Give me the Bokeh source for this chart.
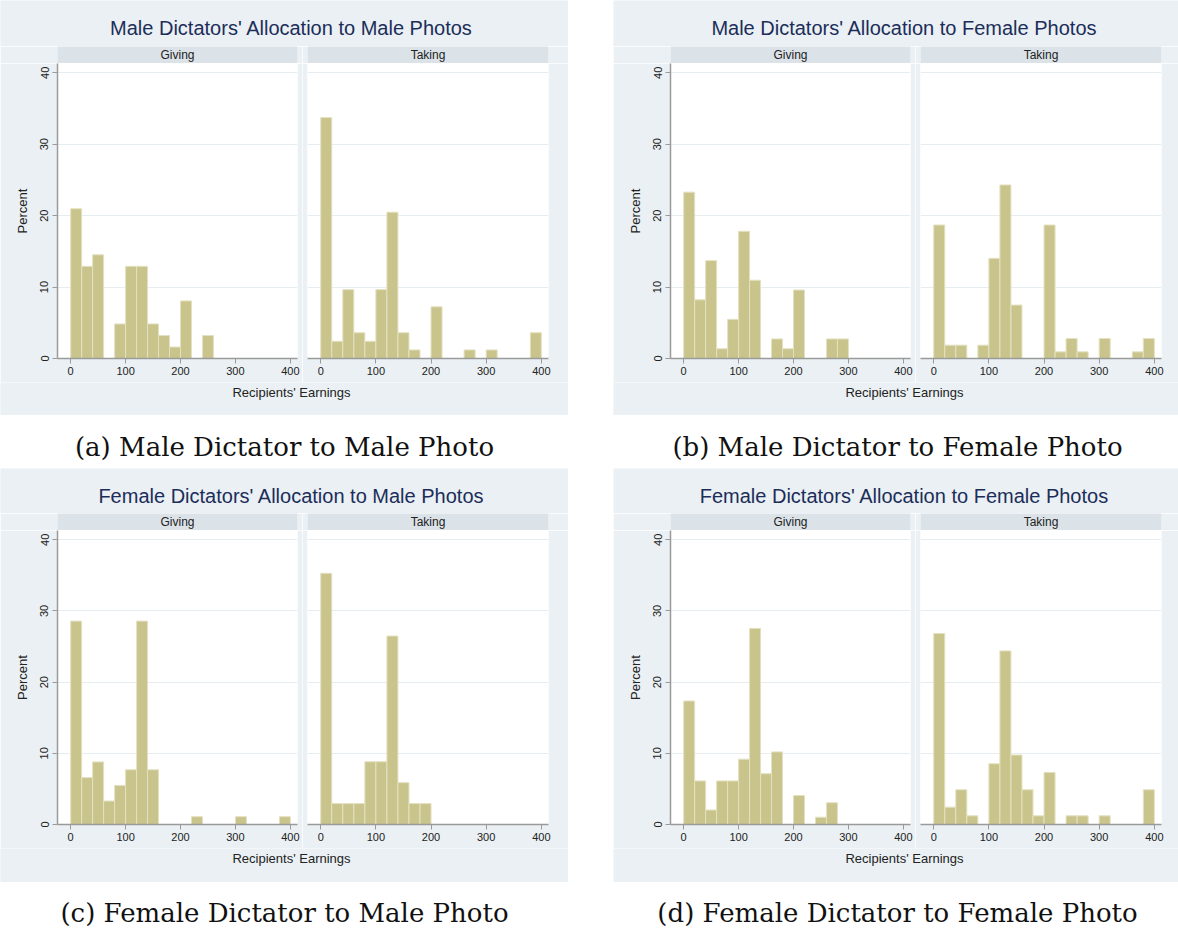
from bokeh.plotting import figure
from bokeh.layouts import row, column
from bokeh.models import Range1d, Label, Spacer, FixedTicker, ColumnDataSource
from bokeh.embed import file_html
from bokeh.resources import INLINE

# ---------------- data ----------------
BIN_EDGES = [0, 20, 40, 60, 80, 100, 120, 140, 160, 180, 200,
             220, 240, 260, 280, 300, 320, 340, 360, 380, 400]

A_GIVING = [20.97, 12.90, 14.52, 0, 4.84, 12.90, 12.90, 4.84, 3.23, 1.61,
            8.06, 0, 3.23, 0, 0, 0, 0, 0, 0, 0]
A_TAKING = [33.73, 2.41, 9.64, 3.61, 2.41, 9.64, 20.48, 3.61, 1.20, 0,
            7.23, 0, 0, 1.20, 0, 1.20, 0, 0, 0, 3.61]
B_GIVING = [23.29, 8.22, 13.70, 1.37, 5.48, 17.81, 10.96, 0, 2.74, 1.37,
            9.59, 0, 0, 2.74, 2.74, 0, 0, 0, 0, 0]
B_TAKING = [18.69, 1.87, 1.87, 0, 1.87, 14.02, 24.30, 7.48, 0, 0,
            18.69, 0.93, 2.80, 0.93, 0, 2.80, 0, 0, 0.93, 2.80]
C_GIVING = [28.57, 6.59, 8.79, 3.30, 5.49, 7.69, 28.57, 7.69, 0, 0,
            0, 1.10, 0, 0, 0, 1.10, 0, 0, 0, 1.10]
C_TAKING = [35.29, 2.94, 2.94, 2.94, 8.82, 8.82, 26.47, 5.88, 2.94, 2.94,
            0, 0, 0, 0, 0, 0, 0, 0, 0, 0]
D_GIVING = [17.35, 6.12, 2.04, 6.12, 6.12, 9.18, 27.55, 7.14, 10.20, 0,
            4.08, 0, 1.02, 3.06, 0, 0, 0, 0, 0, 0]
D_TAKING = [26.83, 2.44, 4.88, 1.22, 0, 8.54, 24.39, 9.76, 4.88, 1.22,
            7.32, 0, 1.22, 1.22, 0, 1.22, 0, 0, 0, 4.88]

TITLES = ["Male Dictators' Allocation to Male Photos",
          "Male Dictators' Allocation to Female Photos",
          "Female Dictators' Allocation to Male Photos",
          "Female Dictators' Allocation to Female Photos"]
CAPTIONS = ["(a) Male Dictator to Male Photo",
            "(b) Male Dictator to Female Photo",
            "(c) Female Dictator to Male Photo",
            "(d) Female Dictator to Female Photo"]
FACETS = ["Giving", "Taking"]
X_LABEL = "Recipients' Earnings"
Y_LABEL = "Percent"
X_TICKS = [0, 100, 200, 300, 400]
Y_TICKS = [0, 10, 20, 30, 40]
GRID_TICKS = [10, 20, 30, 40]

# ---------------- style ----------------
PANEL_BG = "#eaf0f3"
STRIP_BG = "#dbe3e9"
TITLE_COLOR = "#1c2d5a"
BAR_FILL = "#c9c48b"
BAR_LINE = "#e4e1c2"
GRID = "#e6edf0"
AXIS = "#9a9a9a"
TXT = "#222222"
SANS = "Liberation Sans"
SERIF = "DejaVu Serif"

X_RANGE = (-24, 413)
Y_RANGE = (0, 41.3)
LEFT = 57
GAP = 5
FRAME_G = 240
FRAME_T = 241
BOTTOM = 24
STRIP_H = 17


def blank(width, height, bg):
    p = figure(width=width, height=height, x_range=Range1d(0, width),
               y_range=Range1d(0, height), x_axis_location=None,
               y_axis_location=None, toolbar_location=None, title=None,
               min_border=0, output_backend="svg")
    p.background_fill_color = bg
    p.border_fill_color = bg
    p.outline_line_color = None
    p.xgrid.visible = False
    p.ygrid.visible = False
    return p


def strip(text, width, left, right):
    p = figure(width=width, height=STRIP_H, x_range=Range1d(0, 1), y_range=Range1d(0, 1),
               x_axis_location=None, y_axis_location=None, toolbar_location=None,
               title=None, min_border_left=left, min_border_right=right,
               min_border_top=0, min_border_bottom=0, output_backend="svg")
    p.background_fill_color = STRIP_BG
    p.border_fill_color = PANEL_BG
    p.outline_line_color = None
    p.xgrid.visible = False
    p.ygrid.visible = False
    p.add_layout(Label(x=0.5, y=0.5, text=text, text_align="center",
                       text_baseline="middle", text_font=SANS,
                       text_font_size="12px", text_color=TXT))
    return p


def hist(values, width, height, left, right, show_y):
    p = figure(width=width, height=height, x_range=Range1d(*X_RANGE),
               y_range=Range1d(*Y_RANGE),
               y_axis_location="left" if show_y else None,
               toolbar_location=None, title=None,
               min_border_left=left, min_border_right=right,
               min_border_top=0, min_border_bottom=BOTTOM, output_backend="svg")
    p.background_fill_color = "white"
    p.border_fill_color = PANEL_BG
    p.outline_line_color = None
    lefts, rights, tops = [], [], []
    for i, v in enumerate(values):
        if v > 0:
            lefts.append(BIN_EDGES[i])
            rights.append(BIN_EDGES[i + 1])
            tops.append(v)
    src = ColumnDataSource(dict(left=lefts, right=rights, top=tops))
    p.quad(left="left", right="right", bottom=0, top="top", source=src,
           fill_color=BAR_FILL, line_color=BAR_LINE, line_width=1)
    p.xgrid.visible = False
    p.ygrid.ticker = FixedTicker(ticks=GRID_TICKS)
    p.ygrid.grid_line_color = GRID
    p.ygrid.grid_line_width = 1

    ax = p.xaxis[0]
    ax.ticker = FixedTicker(ticks=X_TICKS)
    ax.axis_line_color = AXIS
    ax.axis_line_width = 1.5
    ax.major_tick_line_color = AXIS
    ax.major_tick_out = 5
    ax.major_tick_in = 0
    ax.minor_tick_line_color = None
    ax.major_label_text_font = SANS
    ax.major_label_text_font_size = "11px"
    ax.major_label_text_color = TXT
    ax.major_label_standoff = 3
    if show_y:
        ay = p.yaxis[0]
        ay.ticker = FixedTicker(ticks=Y_TICKS)
        ay.axis_line_color = AXIS
        ay.axis_line_width = 1.5
        ay.major_tick_line_color = AXIS
        ay.major_tick_out = 5
        ay.major_tick_in = 0
        ay.minor_tick_line_color = None
        ay.major_label_orientation = "vertical"
        ay.major_label_text_font = SANS
        ay.major_label_text_font_size = "11px"
        ay.major_label_text_color = TXT
        ay.major_label_standoff = 4
        ay.axis_label = Y_LABEL
        ay.axis_label_text_font = SANS
        ay.axis_label_text_font_style = "normal"
        ay.axis_label_text_font_size = "13px"
        ay.axis_label_text_color = TXT
        ay.axis_label_standoff = 8
    return p


def panel(title, giving, taking, right_margin, header_h, title_down, hist_h, footer_h):
    w_g = LEFT + FRAME_G + GAP
    w_t = GAP + FRAME_T + right_margin
    W = w_g + w_t
    header = blank(W, header_h, PANEL_BG)
    header.add_layout(Label(x=291, y=header_h - title_down, text=title,
                            text_align="center", text_baseline="middle",
                            text_font=SANS, text_font_size="20px",
                            text_color=TITLE_COLOR))
    s_g = strip(FACETS[0], w_g, LEFT, GAP)
    s_t = strip(FACETS[1], w_t, GAP, right_margin)
    h_g = hist(giving, w_g, hist_h, LEFT, GAP, True)
    h_t = hist(taking, w_t, hist_h, GAP, right_margin, False)
    footer = blank(W, footer_h, PANEL_BG)
    footer.add_layout(Label(x=291, y=footer_h - 10, text=X_LABEL, text_align="center",
                            text_baseline="middle", text_font=SANS,
                            text_font_size="13px", text_color=TXT))
    return column(header, row(s_g, s_t), row(h_g, h_t), footer), W


def caption(text, width, height, cx, down):
    p = blank(width, height, "white")
    p.add_layout(Label(x=cx, y=height - down, text=text, text_align="center",
                       text_baseline="middle", text_font=SERIF,
                       text_font_size="26px", text_color="#111111"))
    return p


pa, wa = panel(TITLES[0], A_GIVING, A_TAKING, 20, 46, 27, 319, 33)
pb, wb = panel(TITLES[1], B_GIVING, B_TAKING, 17, 46, 27, 319, 33)
pc, wc = panel(TITLES[2], C_GIVING, C_TAKING, 20, 45, 27, 318, 34)
pd, wd = panel(TITLES[3], D_GIVING, D_TAKING, 17, 45, 27, 318, 34)

SP = 45
top_row = row(pa, Spacer(width=SP, height=10), pb)
cap_row1 = row(caption(CAPTIONS[0], wa, 53, 284, 31), Spacer(width=SP, height=53),
               caption(CAPTIONS[1], wb, 53, 284, 31))
bot_row = row(pc, Spacer(width=SP, height=10), pd)
cap_row2 = row(caption(CAPTIONS[2], wc, 46, 284, 30), Spacer(width=SP, height=46),
               caption(CAPTIONS[3], wd, 46, 284, 30))

layout = column(top_row, cap_row1, bot_row, cap_row2)

open("out.html", "w").write(file_html(layout, INLINE))
